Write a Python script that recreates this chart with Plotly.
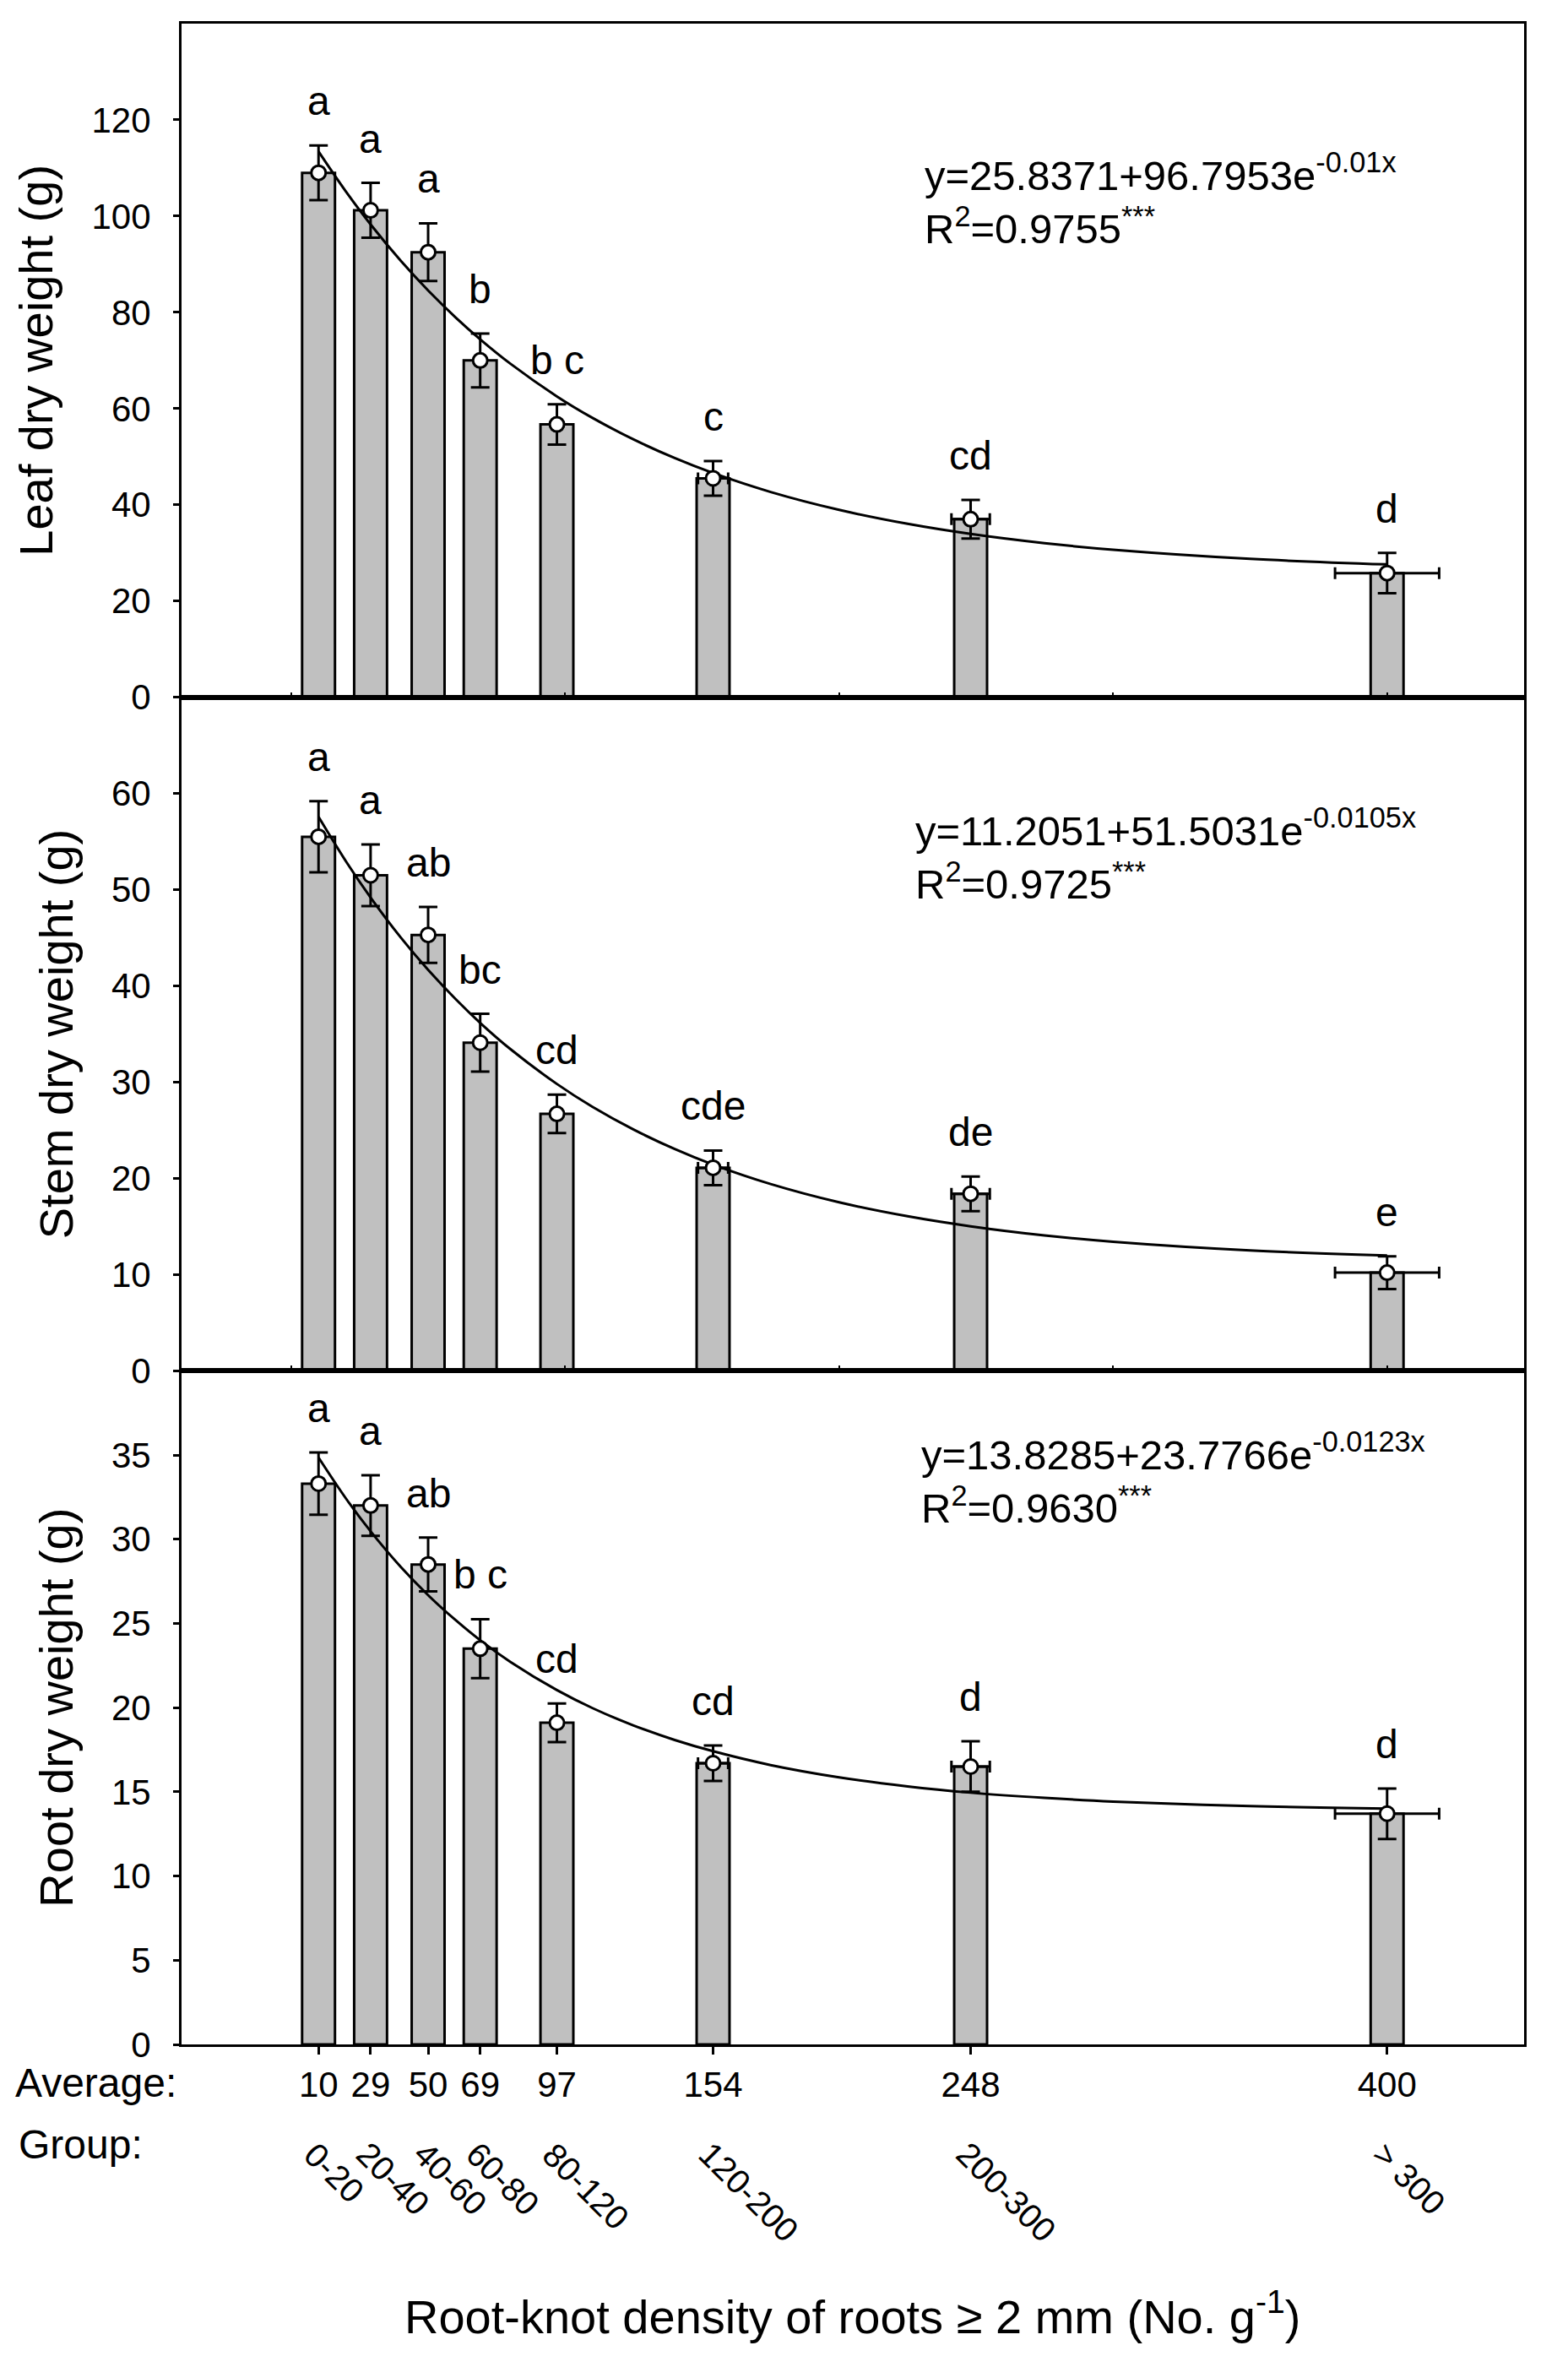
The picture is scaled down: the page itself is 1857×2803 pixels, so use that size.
#!/usr/bin/env python3
from __future__ import annotations

import plotly.graph_objects as go
from plotly.subplots import make_subplots

# Root-knot density groups (x = group average)
avg_density = [10, 29, 50, 69, 97, 154, 248, 400]
avg_labels = ["10", "29", "50", "69", "97", "154", "248", "400"]
group_labels = ["0-20", "20-40", "40-60", "60-80", "80-120", "120-200", "200-300", "> 300"]
# horizontal spread of the group average (only visible for the wide groups)
avg_err = [None, None, None, None, None, 5.5, 7.0, 19.0]

leaf_mean = [109.0, 101.2, 92.5, 70.0, 56.7, 45.5, 37.0, 25.8]
leaf_err = [5.7, 5.7, 6.0, 5.6, 4.2, 3.6, 4.0, 4.2]
leaf_letters = ["a", "a", "a", "b", "b c", "c", "cd", "d"]

stem_mean = [55.5, 51.5, 45.3, 34.1, 26.7, 21.1, 18.4, 10.2]
stem_err = [3.7, 3.2, 2.9, 3.0, 2.0, 1.8, 1.8, 1.7]
stem_letters = ["a", "a", "ab", "bc", "cd", "cde", "de", "e"]

root_mean = [33.3, 32.0, 28.5, 23.5, 19.1, 16.7, 16.5, 13.7]
root_err = [1.85, 1.8, 1.6, 1.75, 1.15, 1.05, 1.5, 1.5]
root_letters = ["a", "a", "ab", "b c", "cd", "cd", "d", "d"]

# fitted exponential curves as printed on the chart
fit_x = [10, 20, 29, 40, 50, 60, 69, 80, 97, 110, 125, 140, 154, 175, 200, 225, 248, 275, 300, 350, 400]
leaf_fit = [113.42, 105.09, 98.27, 90.72, 84.55, 78.96, 74.39, 69.33, 62.53, 58.06, 53.57,
            49.71, 46.59, 42.66, 38.94, 36.04, 33.94, 32.02, 30.66, 28.76, 27.61]
stem_fit = [57.57, 52.95, 49.19, 45.04, 41.67, 38.64, 36.16, 33.44, 29.81, 27.43, 25.07,
            23.05, 21.43, 19.41, 17.51, 16.06, 15.02, 14.07, 13.41, 12.51, 11.98]
root_fit = [34.85, 32.42, 30.47, 28.36, 26.68, 25.20, 24.00, 22.72, 21.04, 19.97, 18.94,
            18.08, 17.41, 16.59, 15.86, 15.32, 14.95, 14.64, 14.42, 14.15, 14.00]

leaf_eq = "y=25.8371+96.7953e<sup>-0.01x</sup><br>R<sup>2</sup>=0.9755<sup>***</sup>"
stem_eq = "y=11.2051+51.5031e<sup>-0.0105x</sup><br>R<sup>2</sup>=0.9725<sup>***</sup>"
root_eq = "y=13.8285+23.7766e<sup>-0.0123x</sup><br>R<sup>2</sup>=0.9630<sup>***</sup>"

leaf_ticks = [0, 20, 40, 60, 80, 100, 120]
stem_ticks = [0, 10, 20, 30, 40, 50, 60]
root_ticks = [0, 5, 10, 15, 20, 25, 30, 35]

FONT = "Arial, Liberation Sans, sans-serif"
W, H = 1857, 2803
M_L, M_R, M_T, M_B = 207, 60, 20, 390
PLOT_H = H - M_T - M_B


def py(px: float) -> float:
    # pixel row -> paper y
    return (H - M_B - px) / PLOT_H


def px_x(px: float) -> float:
    return (px - M_L) / (W - M_L - M_R)


def add_panel(fig, row, mean, err, fit, letters, eq, eq_x, eq_y):
    fig.add_trace(
        go.Bar(
            x=avg_density,
            y=mean,
            width=12,
            marker={"color": "#c0c0c0", "line": {"color": "black", "width": 3}},
            hoverinfo="skip",
            showlegend=False,
        ),
        row=row,
        col=1,
    )
    fig.add_trace(
        go.Scatter(
            x=fit_x,
            y=fit,
            mode="lines",
            line={"color": "black", "width": 3, "shape": "spline"},
            hoverinfo="skip",
            showlegend=False,
        ),
        row=row,
        col=1,
    )
    fig.add_trace(
        go.Scatter(
            x=avg_density,
            y=mean,
            mode="markers",
            marker={"symbol": "circle", "size": 17, "color": "white",
                    "line": {"color": "black", "width": 3}},
            error_y={"type": "data", "array": err, "visible": True,
                     "color": "black", "thickness": 3, "width": 11},
            error_x={"type": "data", "array": avg_err, "visible": True,
                     "color": "black", "thickness": 3, "width": 7},
            hoverinfo="skip",
            showlegend=False,
        ),
        row=row,
        col=1,
    )
    xref = "x" if row == 1 else f"x{row}"
    yref = "y" if row == 1 else f"y{row}"
    for xv, m, e, lab in zip(avg_density, mean, err, letters):
        fig.add_annotation(
            x=xv, y=m + e, xref=xref, yref=yref, text=lab, showarrow=False,
            yanchor="bottom", yshift=24, font={"size": 48, "color": "black", "family": FONT},
        )
    fig.add_annotation(
        x=eq_x, y=eq_y, xref=xref, yref=f"{yref} domain", text=eq, showarrow=False,
        xanchor="left", yanchor="middle", align="left",
        font={"size": 49, "color": "black", "family": FONT},
    )


def build_chart() -> go.Figure:
    fig = make_subplots(rows=3, cols=1, shared_xaxes=True, vertical_spacing=0)

    add_panel(fig, 1, leaf_mean, leaf_err, leaf_fit, leaf_letters, leaf_eq, 230.5, 0.74)
    add_panel(fig, 2, stem_mean, stem_err, stem_fit, stem_letters, stem_eq, 227.3, 0.767)
    add_panel(fig, 3, root_mean, root_err, root_fit, root_letters, root_eq, 229.3, 0.84)

    axis_common = dict(
        showline=True, linecolor="black", linewidth=3, mirror=True,
        showgrid=False, zeroline=False,
        tickfont={"size": 42, "color": "black", "family": FONT},
    )
    fig.update_xaxes(range=[-40, 450], **axis_common)
    for r in (1, 2):
        fig.update_xaxes(
            ticks="inside", tickvals=[0, 100, 200, 300, 400], ticklen=6, tickwidth=2,
            tickcolor="black", showticklabels=False, row=r, col=1,
        )
    fig.update_xaxes(
        ticks="outside", tickvals=avg_density, ticktext=avg_labels, ticklen=9,
        tickwidth=3, tickcolor="black", showticklabels=True, ticklabelstandoff=0,
        row=3, col=1,
    )

    title_font = {"size": 56, "color": "black", "family": FONT}
    ycfg = [
        (1, [0, 140], leaf_ticks, "Leaf dry weight (g)"),
        (2, [0, 70], stem_ticks, "Stem dry weight (g)"),
        (3, [0, 40], root_ticks, "Root dry weight (g)"),
    ]
    for r, rng, tv, ttl in ycfg:
        fig.update_yaxes(
            range=rng, tickvals=tv, ticks="outside", ticklen=7, tickwidth=3,
            tickcolor="black", ticklabelstandoff=18,
            title={"text": ttl, "font": title_font, "standoff": 28},
            row=r, col=1, **axis_common,
        )

    # bottom labels
    lab_font = {"size": 48, "color": "black", "family": FONT}
    fig.add_annotation(x=px_x(8), y=py(2458), xref="paper", yref="paper", text="Average:",
                       showarrow=False, xanchor="left", yanchor="middle", font=lab_font)
    fig.add_annotation(x=px_x(12), y=py(2532), xref="paper", yref="paper", text="Group:",
                       showarrow=False, xanchor="left", yanchor="middle", font=lab_font)
    for xv, g in zip(avg_density, group_labels):
        fig.add_annotation(
            x=xv, y=py(2518), xref="x3", yref="paper", text=g, showarrow=False,
            textangle=45, xanchor="left", yanchor="top", xshift=-28,
            font={"size": 40, "color": "black", "family": FONT},
        )
    fig.add_annotation(
        x=0.5, y=py(2732), xref="paper", yref="paper",
        text="Root-knot density of roots \u2265 2 mm (No. g<sup>-1</sup>)",
        showarrow=False, xanchor="center", yanchor="middle",
        font={"size": 56, "color": "black", "family": FONT},
    )

    fig.update_layout(
        width=W, height=H,
        margin={"l": M_L, "r": M_R, "t": M_T, "b": M_B},
        paper_bgcolor="white", plot_bgcolor="white",
        showlegend=False, barmode="overlay",
        font={"family": FONT, "color": "black"},
    )
    return fig


def main() -> None:
    fig = build_chart()
    fig.write_html("out.html")


if __name__ == "__main__":
    main()
